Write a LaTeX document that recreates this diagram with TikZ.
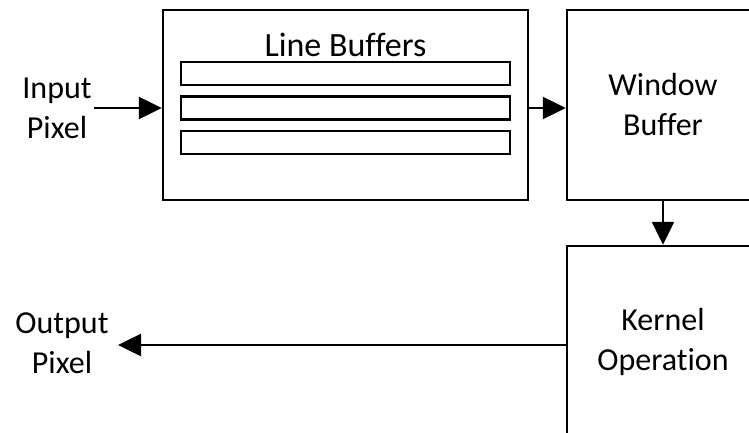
\documentclass[tikz,border=0pt]{standalone}
\usepackage{fontspec}
\setmainfont{Carlito}[Ligatures={NoCommon,NoContextual}]
\usetikzlibrary{arrows.meta}
\tikzset{
  blk/.style={draw, line width=2.5pt, inner sep=0pt, align=center, font=\fontsize{32}{40}\selectfont},
  bar/.style={draw, line width=2.5pt, inner sep=0pt, minimum width=329pt, minimum height=23pt},
  lbl/.style={inner sep=2pt, align=center, font=\fontsize{32}{40}\selectfont},
  arr/.style={line width=2.5pt, -{Triangle[length=23pt,width=22pt]}}
}
\begin{document}
\begin{tikzpicture}[x=1pt,y=-1pt]
\clip (0,0) rectangle (749,433);
\fill[white] (0,0) rectangle (749,433);
\node[blk, minimum width=365pt, minimum height=190pt] (lb) at (345.5,105) {};
\node[lbl, inner sep=0pt, font=\fontsize{34}{40}\selectfont] (lbt) at (345.5,45) {Line Buffers};
\node[bar] (b1) at (345.5,73.5) {};
\node[bar] (b2) at (345.5,108) {};
\node[bar] (b3) at (345.5,142.5) {};
\node[blk, minimum width=192pt, minimum height=190pt] (wb) at (663,105) {Window\\Buffer};
\node[blk, minimum width=192pt, minimum height=204pt, text depth=0pt] (ko) at (663,348) {};
\node[lbl, inner sep=0pt] (kot) at (663,342) {Kernel\\Operation};
\node[lbl] (inp) at (57,108) {Input\\Pixel};
\node[lbl] (out) at (62,343) {Output\\Pixel};
\draw[arr] (inp.east) -- (inp.east -| lb.west);
\draw[arr] (lb.east |- inp.east) -- (wb.west |- inp.east);
\draw[arr] (wb.south) -- (ko.north);
\draw[arr] (ko.west |- 0,345) -- (118,345);
\end{tikzpicture}
\end{document}
